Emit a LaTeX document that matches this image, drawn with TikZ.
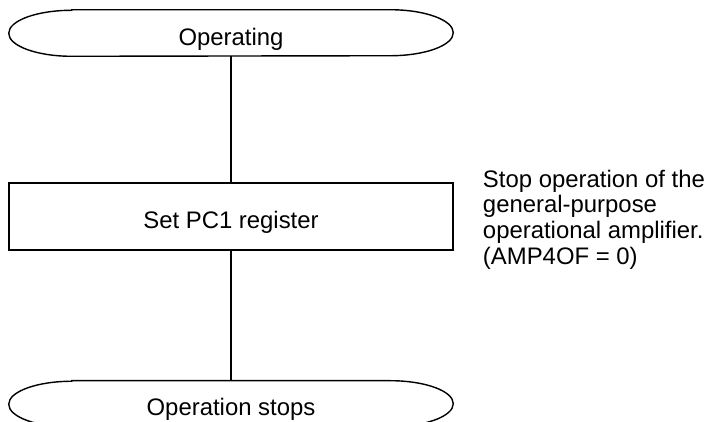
\documentclass[tikz,border=0pt]{standalone}
\usepackage{fontspec}
\setmainfont{Liberation Sans}
\usetikzlibrary{positioning}

\begin{document}
\begin{tikzpicture}[
            node distance=3.15cm,
            terminal/.style={
                    rectangle,
                    minimum width=11.1cm,
                    minimum height=1.15cm,
                    inner sep=0pt,
                    text height=0.6cm,
                    text depth=0pt,
                    font=\fontsize{17}{17.4}\selectfont
                },
            process/.style={
                    rectangle,
                    draw,
                    line width=1pt,
                    minimum width=11.1cm,
                    minimum height=1.675cm,
                    inner sep=0pt,
                    text height=0.6cm,
                    text depth=0pt,
                    font=\fontsize{17}{17.4}\selectfont
                },
            note/.style={
                    align=left,
                    inner sep=0pt,
                    font=\fontsize{17}{17.4}\selectfont
                },
            line/.style={
                    line width=1pt
                }
        ]

        \useasboundingbox (0,0) rectangle (17.675,-10.525);

        % Start
        \node[terminal] (start) at (5.775,-0.825) {Operating};

        % Register setting
        \node[process, below=of start] (setpc) {Set PC1 register};

        \node[note, right=0.725cm of setpc, yshift=-0.08cm] (note) {Stop operation of the\\[1pt]general-purpose\\[1pt]operational amplifier.\\[1pt](AMP4OF = 0)};

        % End
        \node[terminal, below=3.25cm of setpc] (stop) {Operation stops};

        % Terminal outlines
        \foreach \n in {start, stop}
            \draw[line] ([xshift=1.575cm]\n.north west) -- ([xshift=-1.575cm]\n.north east)
                arc[start angle=90, end angle=-90, x radius=1.575cm, y radius=0.575cm]
                -- ([xshift=1.575cm]\n.south west)
                arc[start angle=270, end angle=90, x radius=1.575cm, y radius=0.575cm]
                -- cycle;

        % Flow
        \draw[line] (start) -- (setpc);
        \draw[line] (setpc) -- (stop);

    \end{tikzpicture}
\end{document}
